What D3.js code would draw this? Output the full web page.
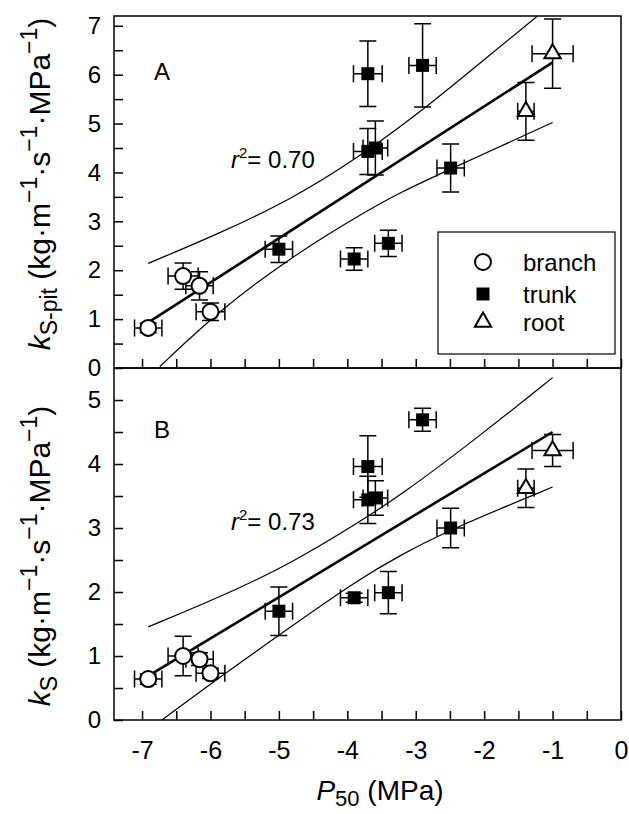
<!DOCTYPE html>
<html><head><meta charset="utf-8">
<script src="https://cdn.jsdelivr.net/npm/d3@7"></script>
<style>
html,body{margin:0;padding:0;background:#fff;}
text{font-family:"Liberation Sans",Arial,Helvetica,sans-serif;fill:#000;}
</style></head>
<body>
<svg id="chart" width="629" height="814"></svg>
<script>
// ---- data ----
const categories = ["branch", "trunk", "root"];
const tissue = ["branch","branch","branch","branch",
  "trunk","trunk","trunk","trunk","trunk","trunk","trunk","trunk",
  "root","root"];
const p50    = [-6.91, -6.40, -6.16, -6.00, -5.00, -3.70, -2.90, -3.70, -3.59, -2.49, -3.40, -3.90, -1.00, -1.39];
const p50Err = [0.20, 0.22, 0.20, 0.21, 0.20, 0.21, 0.20, 0.21, 0.18, 0.20, 0.20, 0.20, 0.30, 0.12];
const ksPit    = [0.82, 1.88, 1.68, 1.15, 2.43, 6.02, 6.19, 4.43, 4.50, 4.09, 2.55, 2.23, 6.43, 5.25];
const ksPitErr = [0.10, 0.27, 0.29, 0.18, 0.27, 0.67, 0.85, 0.47, 0.55, 0.49, 0.27, 0.23, 0.71, 0.59];
const ks    = [0.64, 1.00, 0.95, 0.73, 1.70, 3.96, 4.69, 3.44, 3.47, 3.00, 1.99, 1.91, 4.21, 3.62];
const ksErr = [0.08, 0.31, 0.10, 0.08, 0.38, 0.48, 0.18, 0.37, 0.27, 0.31, 0.33, 0.07, 0.25, 0.30];

// regression lines and 95% confidence bands
const fitAX = [-6.89, -1.0], fitAY = [0.95, 6.25];
const fitBX = [-6.89, -1.0], fitBY = [0.70, 4.50];
const bandAUpX = [-6.91, -5.86, -4.83, -3.86, -2.88, -2.05, -1.22];
const bandAUpY = [2.14, 2.76, 3.44, 4.28, 5.29, 6.25, 7.20];
const bandALoX = [-6.74, -5.86, -4.83, -3.86, -3.22, -2.49, -1.00];
const bandALoY = [0.03, 1.19, 2.26, 3.10, 3.60, 4.07, 5.02];
const bandBUpX = [-6.91, -5.86, -4.83, -3.86, -3.22, -2.05, -1.00];
const bandBUpY = [1.455, 1.92, 2.44, 3.07, 3.51, 4.45, 5.35];
const bandBLoX = [-6.71, -5.86, -4.83, -3.86, -3.22, -2.49, -1.00];
const bandBLoY = [0.00, 0.675, 1.455, 2.18, 2.58, 2.98, 3.64];

const xTicks = [-7, -6, -5, -4, -3, -2, -1, 0];
const yTicksA = [0, 1, 2, 3, 4, 5, 6, 7];
const yTicksB = [0, 1, 2, 3, 4, 5];
const r2A = "0.70", r2B = "0.73";

// ---- layout ----
const svg = d3.select("#chart");
const L = 114, R = 621;
const FONT = '"Liberation Sans",Arial,sans-serif';
const x = d3.scaleLinear().domain([-7.41, 0]).range([L, R]);
const panels = [
  {id:"A", top:16, bottom:368, ymax:7.2, ticks:yTicksA, yv:ksPit, ye:ksPitErr,
   fx:fitAX, fy:fitAY, ux:bandAUpX, uy:bandAUpY, lx:bandALoX, ly:bandALoY, r2:r2A,
   sub:"S-pit", labelY:184, letterY:80, r2Y:168, xLabels:false},
  {id:"B", top:368, bottom:720, ymax:5.5, ticks:yTicksB, yv:ks, ye:ksErr,
   fx:fitBX, fy:fitBY, ux:bandBUpX, uy:bandBUpY, lx:bandBLoX, ly:bandBLoY, r2:r2B,
   sub:"S", labelY:556, letterY:438, r2Y:530, xLabels:true}
];

const tickLen = 9, cap = 8.5;

panels.forEach(p => {
  const y = d3.scaleLinear().domain([0, p.ymax]).range([p.bottom, p.top]);
  const g = svg.append("g");

  const cid = "clip" + p.id;
  svg.append("clipPath").attr("id", cid).append("rect")
    .attr("x", L).attr("y", p.top).attr("width", R - L).attr("height", p.bottom - p.top);

  // y axis major
  const yAx = d3.axisLeft(y).tickValues(p.ticks).tickSize(-tickLen).tickPadding(13).tickFormat(d => String(d));
  const ga = g.append("g").attr("transform", `translate(${L},0)`).call(yAx);
  ga.select(".domain").remove();
  ga.selectAll("line").attr("stroke-width", 1.5);
  ga.selectAll("text").style("font-size", "24px").attr("fill", "#000").style("font-family", FONT);
  // y minor
  const minorY = d3.range(0.5, p.ymax, 1);
  const gm = g.append("g").attr("transform", `translate(${L},0)`)
    .call(d3.axisLeft(y).tickValues(minorY).tickSize(-tickLen).tickFormat(""));
  gm.select(".domain").remove();
  gm.selectAll("line").attr("stroke-width", 1.5);

  // x axis
  const xAx = d3.axisBottom(x).tickValues(xTicks).tickSize(-tickLen).tickPadding(21)
    .tickFormat(p.xLabels ? (d => String(d)) : "");
  const gx = g.append("g").attr("transform", `translate(0,${p.bottom})`).call(xAx);
  gx.select(".domain").remove();
  gx.selectAll("line").attr("stroke-width", 1.5);
  gx.selectAll("text").style("font-size", "25px").attr("fill", "#000").style("font-family", FONT);
  const gxm = g.append("g").attr("transform", `translate(0,${p.bottom})`)
    .call(d3.axisBottom(x).tickValues(d3.range(-6.5, 0, 1)).tickSize(-tickLen).tickFormat(""));
  gxm.select(".domain").remove();
  gxm.selectAll("line").attr("stroke-width", 1.5);

  // frame
  g.append("rect").attr("x", L).attr("y", p.top).attr("width", R - L).attr("height", p.bottom - p.top)
    .attr("fill", "none").attr("stroke", "#000").attr("stroke-width", 1.5);

  // bands and fit
  const lineC = d3.line().x(d => x(d[0])).y(d => y(d[1])).curve(d3.curveBasis);
  const lg = g.append("g").attr("clip-path", `url(#${cid})`);
  lg.append("path").attr("d", lineC(d3.zip(p.ux, p.uy))).attr("fill", "none").attr("stroke", "#000").attr("stroke-width", 1.2);
  lg.append("path").attr("d", lineC(d3.zip(p.lx, p.ly))).attr("fill", "none").attr("stroke", "#000").attr("stroke-width", 1.2);
  lg.append("path").attr("d", d3.line().x(d => x(d[0])).y(d => y(d[1]))(d3.zip(p.fx, p.fy)))
    .attr("fill", "none").attr("stroke", "#000").attr("stroke-width", 2.6);

  // error bars
  const eb = g.append("g").attr("stroke", "#000").attr("stroke-width", 1.5).attr("fill", "none");
  p50.forEach((xv, i) => {
    const cx = x(xv), cy = y(p.yv[i]);
    const y0 = y(p.yv[i] - p.ye[i]), y1 = y(p.yv[i] + p.ye[i]);
    const x0 = x(xv - p50Err[i]), x1 = x(xv + p50Err[i]);
    eb.append("path").attr("d",
      `M${cx},${y0}V${y1}M${cx - cap},${y0}H${cx + cap}M${cx - cap},${y1}H${cx + cap}` +
      `M${x0},${cy}H${x1}M${x0},${cy - cap}V${cy + cap}M${x1},${cy - cap}V${cy + cap}`);
  });

  // markers
  const mk = g.append("g");
  p50.forEach((xv, i) => drawMarker(mk, tissue[i], x(xv), y(p.yv[i])));

  // panel letter
  g.append("text").attr("x", 154).attr("y", p.letterY).style("font-size", "24px").text(p.id);

  // r^2
  const t = g.append("text").attr("x", 231).attr("y", p.r2Y).style("font-size", "24px");
  t.append("tspan").style("font-style", "italic").text("r");
  t.append("tspan").attr("dy", -10).style("font-size", "15px").text("2");
  t.append("tspan").attr("dy", 10).text("= " + p.r2);

  // y axis title
  const yt = svg.append("text").attr("transform", `translate(50,${p.labelY}) rotate(-90)`)
    .attr("text-anchor", "middle").style("font-size", "30px");
  yt.append("tspan").style("font-style", "italic").text("k");
  yt.append("tspan").attr("dy", 7).style("font-size", "23px").text(p.sub);
  yt.append("tspan").attr("dy", -7).text(" (kg·m");
  yt.append("tspan").attr("dy", -13).style("font-size", "23px").text("\u22121");
  yt.append("tspan").attr("dy", 13).text("·s");
  yt.append("tspan").attr("dy", -13).style("font-size", "23px").text("\u22121");
  yt.append("tspan").attr("dy", 13).text("·MPa");
  yt.append("tspan").attr("dy", -13).style("font-size", "23px").text("\u22121");
  yt.append("tspan").attr("dy", 13).text(")");
});

function drawMarker(sel, type, cx, cy) {
  if (type === "branch") {
    sel.append("circle").attr("cx", cx).attr("cy", cy).attr("r", 8)
      .attr("fill", "#fff").attr("stroke", "#000").attr("stroke-width", 2);
  } else if (type === "trunk") {
    sel.append("rect").attr("x", cx - 6.5).attr("y", cy - 6.5).attr("width", 13).attr("height", 13).attr("fill", "#000");
  } else {
    sel.append("path").attr("transform", `translate(${cx},${cy})`)
      .attr("d", d3.symbol(d3.symbolTriangle, 115)())
      .attr("fill", "#fff").attr("stroke", "#000").attr("stroke-width", 2);
  }
}

// legend
const lgd = svg.append("g");
lgd.append("rect").attr("x", 438).attr("y", 232).attr("width", 177).attr("height", 122)
  .attr("fill", "#fff").attr("stroke", "#000").attr("stroke-width", 1.2);
const legY = [262, 294, 322];
categories.forEach((c, i) => {
  drawMarker(lgd, c, 483, legY[i]);
  lgd.append("text").attr("x", 523).attr("y", legY[i] + 9).style("font-size", "24px").text(c);
});

// x axis title
const xt = svg.append("text").attr("x", 380).attr("y", 800).attr("text-anchor", "middle").style("font-size", "28px");
xt.append("tspan").style("font-style", "italic").text("P");
xt.append("tspan").attr("dy", 6).style("font-size", "22px").text("50");
xt.append("tspan").attr("dy", -6).text(" (MPa)");
</script>
</body></html>
